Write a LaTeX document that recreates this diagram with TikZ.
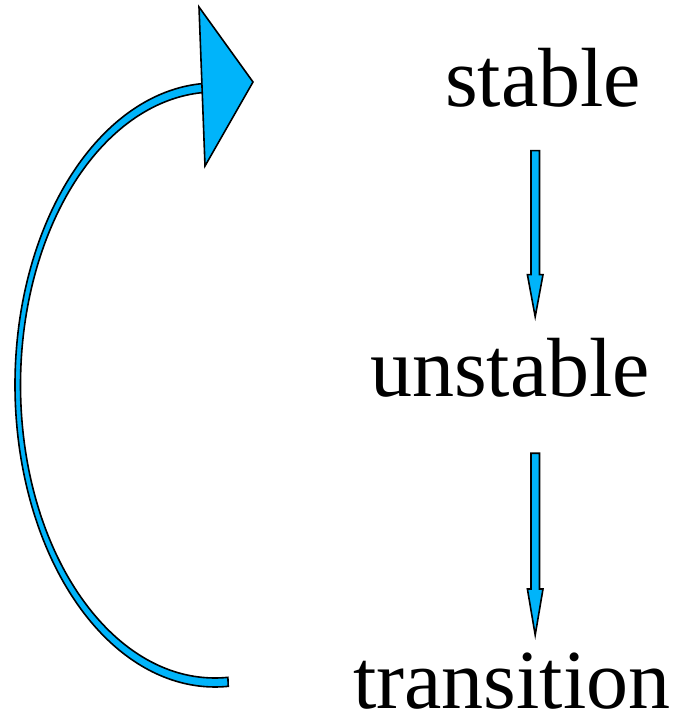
\documentclass[tikz,border=0pt]{standalone}
\usepackage{fontspec}
\setmainfont{Liberation Serif}
\usetikzlibrary{calc}
\definecolor{arrowblue}{RGB}{0,180,250}
\tikzset{
  lbl/.style={anchor=base west,inner sep=0pt,outer sep=0pt,font=\fontsize{84}{96}\selectfont},
  blk/.style={fill=arrowblue,draw=black,line width=1.6pt,line join=miter},
}
\begin{document}
\begin{tikzpicture}[x=1pt,y=1pt]
\useasboundingbox (0,0) rectangle (677,718);
% labels
\node[lbl] (stable) at (445,611.3) {stable};
\node[lbl] (unstable) at (370,321.3) {unstable};
\node[lbl] (transition) at (353,9.7) {transition};
% straight block arrows
\coordinate (a1s) at (535.2,567.3);
\coordinate (a1t) at (535.2,401.3);
\coordinate (a2s) at (535.2,264.7);
\coordinate (a2t) at (535.2,83);
\draw[blk] ($(a1s)+(-4.25,0)$) -- ($(a1s)+(4.25,0)$) -- ($(a1t)+(4.25,42)$) -- ($(a1t)+(7.8,42)$) -- (a1t)
  -- ($(a1t)+(-7.8,42)$) -- ($(a1t)+(-4.25,42)$) -- cycle;
\draw[blk] ($(a2s)+(-4.25,0)$) -- ($(a2s)+(4.25,0)$) -- ($(a2t)+(4.25,46)$) -- ($(a2t)+(7.8,46)$) -- (a2t)
  -- ($(a2t)+(-7.8,46)$) -- ($(a2t)+(-4.25,46)$) -- cycle;
% big curved arrow
\coordinate (c) at (215,333);
\draw[blk] ($(c)+(90:200 and 302)$) arc[start angle=90,end angle=273.8,x radius=200pt,y radius=302pt]
  -- ($(c)+(273.8:194.5 and 293)$) arc[start angle=273.8,end angle=90,x radius=194.5pt,y radius=293pt] -- cycle;
\coordinate (h1) at (199,711);
\coordinate (h2) at (253,636);
\coordinate (h3) at (205,552);
\draw[blk] (h1) -- (h2) -- (h3) -- cycle;
\end{tikzpicture}
\end{document}
